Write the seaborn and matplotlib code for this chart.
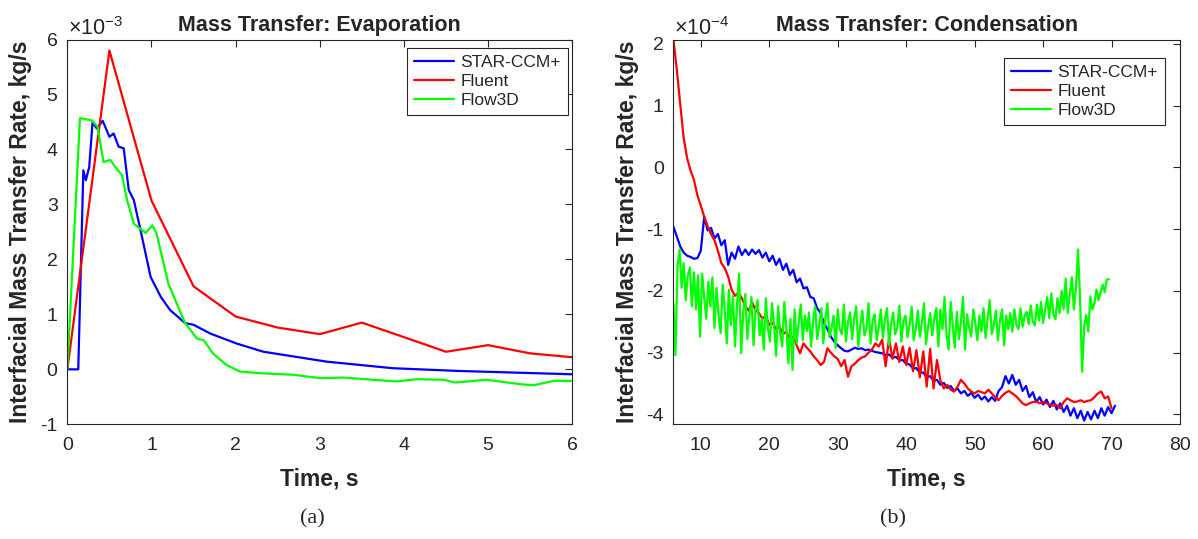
import numpy as np
import pandas as pd
import matplotlib.pyplot as plt
import seaborn as sns

sns.set_style("white")
plt.rcParams['font.family'] = ['Liberation Sans', 'DejaVu Sans']
plt.rcParams['mathtext.default'] = 'regular'
plt.rcParams['axes.unicode_minus'] = False

# (a) Evaporation, values in 1e-3 kg/s
evap_star_t = [0, 0.13, 0.19, 0.22, 0.26, 0.30, 0.35, 0.42, 0.50, 0.55, 0.61, 0.67, 0.73, 0.79,
               0.87, 0.99, 1.11, 1.22, 1.40, 1.50, 1.70, 2.01, 2.33, 3.08, 3.87, 4.66, 6.0]
evap_star = [0, 0, 3.62, 3.44, 3.68, 4.50, 4.38, 4.52, 4.23, 4.29, 4.05, 4.02, 3.26, 3.08,
             2.53, 1.68, 1.32, 1.08, 0.84, 0.81, 0.65, 0.47, 0.32, 0.14, 0.02, -0.03, -0.09]
evap_fluent_t = [0, 0.5, 1.0, 1.5, 2.0, 2.5, 3.0, 3.5, 4.5, 5.0, 5.5, 6.0]
evap_fluent = [0, 5.8, 3.07, 1.51, 0.96, 0.76, 0.64, 0.85, 0.32, 0.44, 0.29, 0.22]
evap_flow_t = [0, 0.15, 0.29, 0.36, 0.43, 0.51, 0.57, 0.65, 0.71, 0.79, 0.93, 1.01, 1.06, 1.20,
               1.40, 1.54, 1.62, 1.73, 1.89, 2.05, 2.29, 2.69, 3.0, 3.28, 3.91, 4.15, 4.47, 4.61,
               4.98, 5.38, 5.54, 5.78, 6.0]
evap_flow = [0, 4.57, 4.53, 4.41, 3.77, 3.81, 3.68, 3.53, 3.08, 2.65, 2.48, 2.62, 2.47, 1.56,
             0.84, 0.56, 0.53, 0.29, 0.08, -0.04, -0.07, -0.10, -0.16, -0.15, -0.22, -0.18, -0.19, -0.24,
             -0.19, -0.27, -0.29, -0.21, -0.21]

# (b) Condensation, values in 1e-4 kg/s, sampled on a regular time step
cond_star_t0, cond_star_dt = 6.0, 0.5
cond_star = [
    -0.96, -1.12, -1.28, -1.38, -1.43, -1.45, -1.48, -1.47, -1.35, -0.80,
    -1.02, -0.98, -1.15, -1.08, -1.26, -1.18, -1.58, -1.38, -1.48, -1.28,
    -1.42, -1.33, -1.42, -1.33, -1.40, -1.34, -1.46, -1.38, -1.52, -1.43,
    -1.58, -1.48, -1.66, -1.56, -1.74, -1.66, -1.86, -1.80, -1.96, -1.94,
    -2.10, -2.12, -2.28, -2.36, -2.52, -2.62, -2.74, -2.82, -2.88, -2.93,
    -2.97, -2.98, -2.95, -2.92, -2.94, -2.93, -2.96, -2.95, -2.97, -2.99,
    -3.00, -3.01, -3.04, -3.03, -3.08, -3.07, -3.12, -3.12, -3.18, -3.19,
    -3.26, -3.25, -3.33, -3.32, -3.40, -3.38, -3.46, -3.44, -3.52, -3.49,
    -3.57, -3.54, -3.62, -3.58, -3.66, -3.62, -3.70, -3.65, -3.73, -3.68,
    -3.76, -3.71, -3.79, -3.72, -3.78, -3.62, -3.56, -3.38, -3.50, -3.36,
    -3.52, -3.44, -3.62, -3.54, -3.72, -3.64, -3.80, -3.72, -3.84, -3.76,
    -3.88, -3.78, -3.92, -3.82, -3.96, -3.86, -4.02, -3.90, -4.06, -3.94,
    -4.10, -3.96, -4.08, -3.94, -4.06, -3.90, -4.02, -3.88, -3.98, -3.86]
cond_fluent_t0, cond_fluent_dt = 6.0, 0.5
cond_fluent = [
    2.07, 1.58, 1.02, 0.48, 0.15, -0.05, -0.20, -0.45, -0.62, -0.80,
    -0.95, -1.08, -1.18, -1.35, -1.55, -1.63, -1.77, -1.98, -2.08, -2.03,
    -2.12, -2.25, -2.32, -2.19, -2.31, -2.36, -2.45, -2.40, -2.55, -2.52,
    -2.62, -2.58, -2.70, -2.66, -2.78, -2.74, -2.88, -3.01, -2.85, -2.92,
    -2.98, -3.06, -3.12, -3.20, -3.15, -2.93, -3.00, -3.06, -3.10, -3.22,
    -3.12, -3.39, -3.22, -3.18, -3.12, -3.08, -3.06, -3.00, -2.95, -2.85,
    -2.90, -2.79, -3.22, -2.77, -3.10, -2.85, -3.15, -2.90, -3.20, -2.92,
    -3.30, -2.96, -3.40, -2.98, -3.55, -2.94, -3.58, -3.12, -3.45, -3.58,
    -3.52, -3.60, -3.63, -3.55, -3.44, -3.50, -3.58, -3.63, -3.66, -3.62,
    -3.64, -3.66, -3.60, -3.66, -3.72, -3.77, -3.70, -3.65, -3.62, -3.66,
    -3.70, -3.76, -3.82, -3.85, -3.82, -3.80, -3.79, -3.82, -3.80, -3.82,
    -3.84, -3.86, -3.85, -3.90, -3.80, -3.74, -3.77, -3.80, -3.79, -3.77,
    -3.80, -3.78, -3.77, -3.72, -3.66, -3.63, -3.74, -3.71, -3.90]
cond_flow_t0, cond_flow_dt = 6.0, 0.3
cond_flow = [
    -2.20, -3.04, -1.60, -1.33, -1.95, -1.55, -2.15, -1.75, -1.62, -2.25,
    -1.70, -2.30, -1.75, -2.74, -1.72, -2.10, -2.45, -1.85, -2.25, -1.78,
    -2.60, -1.95, -2.40, -2.68, -1.90, -2.30, -2.85, -1.98, -2.55, -2.08,
    -2.90, -2.20, -1.72, -3.01, -2.35, -2.05, -2.78, -2.40, -2.10, -2.88,
    -2.30, -2.15, -2.72, -2.45, -2.95, -2.12, -2.60, -2.82, -2.20, -2.55,
    -3.05, -2.25, -2.70, -2.90, -2.18, -2.60, -3.17, -2.45, -3.28, -2.30,
    -2.85, -2.50, -2.22, -2.80, -2.40, -2.65, -2.35, -2.90, -2.50, -2.25,
    -2.78, -2.55, -2.28, -2.85, -2.45, -2.20, -2.75, -2.60, -2.40, -2.92,
    -2.30, -2.62, -2.70, -2.22, -2.82, -2.50, -2.35, -2.78, -2.45, -2.25,
    -2.90, -2.55, -2.32, -2.72, -2.62, -2.20, -2.85, -2.48, -2.38, -2.80,
    -2.58, -2.30, -2.76, -2.45, -2.28, -2.88, -2.52, -2.35, -2.70, -2.60,
    -2.24, -2.82, -2.48, -2.40, -2.75, -2.55, -2.26, -2.80, -2.62, -2.32,
    -2.74, -2.50, -2.20, -2.86, -2.58, -2.36, -2.72, -2.45, -2.28, -2.90,
    -2.30, -2.62, -2.10, -2.70, -2.95, -2.18, -2.55, -2.92, -2.34, -2.78,
    -2.50, -2.10, -2.95, -2.38, -2.60, -2.74, -2.30, -2.52, -2.80, -2.40,
    -2.66, -2.28, -2.76, -2.45, -2.15, -2.70, -2.55, -2.32, -2.80, -2.48,
    -2.30, -2.88, -2.40, -2.62, -2.36, -2.66, -2.30, -2.55, -2.62, -2.28,
    -2.58, -2.40, -2.34, -2.54, -2.24, -2.50, -2.56, -2.22, -2.48, -2.18,
    -2.52, -2.30, -2.10, -2.44, -2.04, -2.38, -2.46, -2.12, -2.36, -2.00,
    -2.30, -1.80, -2.36, -2.05, -1.78, -2.30, -1.95, -1.33, -2.14, -3.31,
    -2.58, -2.39, -2.66, -2.09, -2.30, -2.20, -1.98, -2.15, -2.02, -1.90,
    -2.02, -1.82, -1.81]

solvers = ['STAR-CCM+', 'Fluent', 'Flow3D']
colors = {'STAR-CCM+': '#0000FF', 'Fluent': '#FF0000', 'Flow3D': '#00FF00'}
dark = '#262626'


def frame(t, v, name):
    return pd.DataFrame({'time': t, 'rate': v, 'solver': name})


def regular(t0, dt, v):
    return t0 + dt * np.arange(len(v))


evap_df = pd.concat([frame(evap_star_t, evap_star, 'STAR-CCM+'),
                     frame(evap_fluent_t, evap_fluent, 'Fluent'),
                     frame(evap_flow_t, evap_flow, 'Flow3D')], ignore_index=True)
cond_df = pd.concat([frame(regular(cond_star_t0, cond_star_dt, cond_star), cond_star, 'STAR-CCM+'),
                     frame(regular(cond_fluent_t0, cond_fluent_dt, cond_fluent), cond_fluent, 'Fluent'),
                     frame(regular(cond_flow_t0, cond_flow_dt, cond_flow), cond_flow, 'Flow3D')],
                    ignore_index=True)

fig = plt.figure(figsize=(11.98, 5.39), dpi=100)
ax1 = fig.add_axes([0.0562, 0.2128, 0.4215, 0.7139])
ax2 = fig.add_axes([0.5621, 0.2128, 0.4229, 0.7139])


def style_axis(ax, df, title, exp, leg_anchor):
    sns.lineplot(data=df, x='time', y='rate', hue='solver', hue_order=solvers, palette=colors,
                 estimator=None, sort=False, linewidth=1.6, ax=ax)
    ax.set_title(title, fontsize=15.5, fontweight='bold', pad=6)
    ax.set_xlabel('Time, s', fontsize=16.5, fontweight='bold', color=dark)
    ax.set_ylabel('Interfacial Mass Transfer Rate, kg/s', fontsize=16.5, fontweight='bold', color=dark)
    ax.tick_params(direction='in', length=5, width=0.8, top=True, right=True,
                   labelsize=14, colors=dark)
    ax.tick_params(axis='x', pad=9)
    ax.tick_params(axis='y', pad=7)
    for s in ax.spines.values():
        s.set_color(dark)
        s.set_linewidth(0.8)
    ax.text(0.002, 0.998, r'$\times10^{%d}$' % exp, transform=ax.transAxes, fontsize=15.5,
            color=dark, ha='left', va='bottom')
    ax.legend(loc='upper right', bbox_to_anchor=leg_anchor, borderaxespad=0, fontsize=12.5,
              frameon=True, fancybox=False, edgecolor=dark, framealpha=1, handlelength=2.3,
              labelspacing=0.22, borderpad=0.4, handletextpad=0.35)
    ax.get_legend().get_frame().set_linewidth(0.8)


style_axis(ax1, evap_df, 'Mass Transfer: Evaporation', -3, (0.991, 0.978))
ax1.set_xlim(0, 6)
ax1.set_ylim(-1, 6)
ax1.set_xticks(range(0, 7))
ax1.set_yticks(range(-1, 7))

style_axis(ax2, cond_df, 'Mass Transfer: Condensation', -4, (0.970, 0.952))
ax2.set_xlim(6, 80)
ax2.set_ylim(-4.16, 2.07)
ax2.set_xticks(range(10, 81, 10))
ax2.set_yticks(range(-4, 3))

ax1.yaxis.set_label_coords(-0.07, 0.5)
ax2.yaxis.set_label_coords(-0.068, 0.5)
ax1.xaxis.set_label_coords(0.5, -0.112)
ax2.xaxis.set_label_coords(0.5, -0.112)

fig.text(0.261, 0.038, '(a)', fontsize=16, family=['Liberation Serif', 'DejaVu Serif'],
         ha='center', va='center')
fig.text(0.745, 0.038, '(b)', fontsize=16, family=['Liberation Serif', 'DejaVu Serif'],
         ha='center', va='center')

fig.savefig('out.png', dpi=100)
